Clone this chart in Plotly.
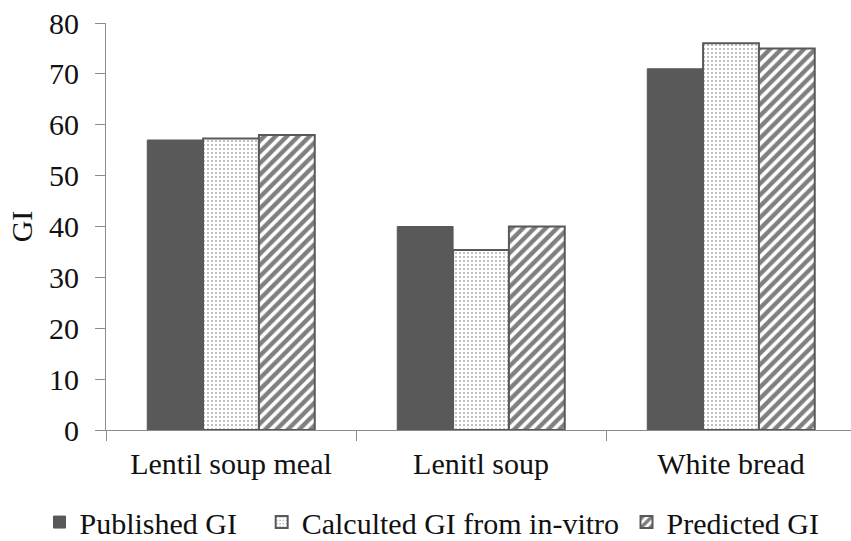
import plotly.graph_objects as go

categories = ["Lentil soup meal", "Lenitl soup", "White bread"]
published_gi = [57, 40, 71]
calculated_gi = [57.3, 35.4, 76]
predicted_gi = [58, 40, 75]
y_ticks = [0, 10, 20, 30, 40, 50, 60, 70, 80]

FONT = "Liberation Serif"
DARK = "#595959"
FS = 30

fig = go.Figure()
fig.add_trace(go.Bar(
    x=categories, y=published_gi, name="Published GI", legend="legend",
    marker=dict(color=DARK, line=dict(color=DARK, width=1)),
))
fig.add_trace(go.Bar(
    x=categories, y=calculated_gi, name="Calculted GI from in-vitro", legend="legend2",
    marker=dict(color="white", line=dict(color=DARK, width=2),
                pattern=dict(shape=".", fgcolor="#555555", bgcolor="white",
                             size=4, solidity=0.2, fillmode="overlay")),
))
fig.add_trace(go.Bar(
    x=categories, y=predicted_gi, name="Predicted GI", legend="legend3",
    marker=dict(color="white", line=dict(color=DARK, width=2),
                pattern=dict(shape="/", fgcolor="#000000", bgcolor="white",
                             size=8, solidity=0.55, fillmode="overlay")),
))

def leg(xpos):
    return dict(orientation="h", x=xpos, xanchor="left", xref="container",
                y=0.035, yanchor="middle", yref="container",
                font=dict(family=FONT, size=FS, color="#111111"),
                bgcolor="rgba(0,0,0,0)")

fig.update_layout(
    width=851, height=541,
    margin=dict(l=106, r=0, t=23, b=111),
    paper_bgcolor="white", plot_bgcolor="white",
    barmode="group", bargap=0.33, bargroupgap=0,
    font=dict(family=FONT, size=FS, color="#111111"),
    showlegend=True,
    legend=leg(0.0464),
    legend2=leg(0.3075),
    legend3=leg(0.7362),
    xaxis=dict(
        range=[-0.5, 2.48], showgrid=False, showline=True, linecolor="#8c8c8c", linewidth=1,
        ticks="outside", tickson="boundaries", ticklen=10, tickcolor="#8c8c8c",
        tickfont=dict(family=FONT, size=FS), ticklabelstandoff=7,
    ),
    yaxis=dict(
        range=[0, 80], tickvals=y_ticks, showgrid=False, showline=True,
        linecolor="#8c8c8c", linewidth=1, ticks="outside", ticklen=10, tickcolor="#8c8c8c",
        tickfont=dict(family=FONT, size=FS), ticklabelstandoff=10,
        title=dict(text="GI", font=dict(family=FONT, size=FS), standoff=7),
        zeroline=False,
    ),
)

fig.write_html("out.html")
